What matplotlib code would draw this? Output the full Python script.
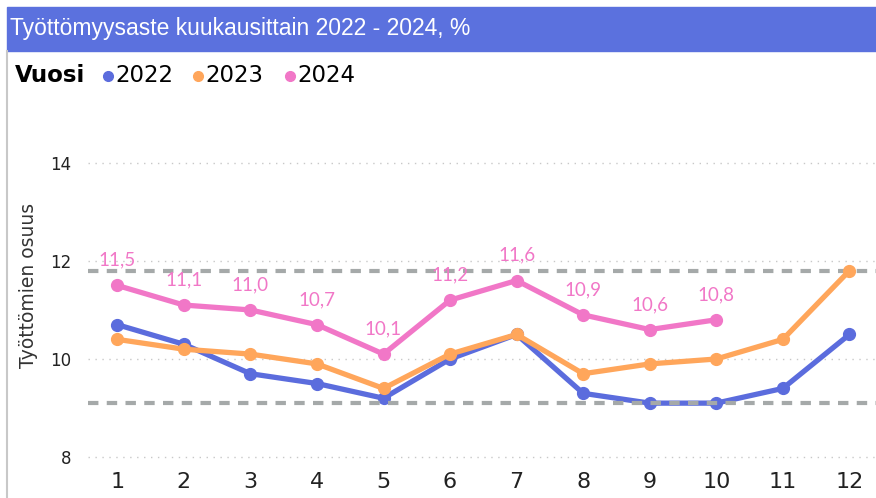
import matplotlib.pyplot as plt
from matplotlib.lines import Line2D
from matplotlib.patches import Rectangle

# data
months = list(range(1, 13))
v2022 = [10.7, 10.3, 9.7, 9.5, 9.2, 10.0, 10.5, 9.3, 9.1, 9.1, 9.4, 10.5]
v2023 = [10.4, 10.2, 10.1, 9.9, 9.4, 10.1, 10.5, 9.7, 9.9, 10.0, 10.4, 11.8]
v2024 = [11.5, 11.1, 11.0, 10.7, 10.1, 11.2, 11.6, 10.9, 10.6, 10.8]
years = ['2022', '2023', '2024']
colors = ['#5B6CDD', '#FFA65B', '#F177C7']
ref_max = 11.8
ref_min = 9.1

W, H = 876, 498
fig = plt.figure(figsize=(W / 100, H / 100), dpi=100)

# title bar
fig.patches.append(Rectangle((7 / W, 1 - 51 / H), 1 - 7 / W, 44 / H,
                             transform=fig.transFigure, color='#5B71DE', zorder=0))
fig.text(10 / W, 1 - 28 / H, 'Työttömyysaste kuukausittain 2022 - 2024, %',
         color='white', fontsize=16.5, va='center', ha='left',
         family='Liberation Sans')
# left border
fig.add_artist(Line2D([7 / W, 7 / W], [0, 1 - 51 / H], transform=fig.transFigure,
                      color='#C8C8C8', lw=1.5))

# legend
fig.text(15 / W, 1 - 76 / H, 'Vuosi', fontsize=16.5, fontweight='bold',
         va='center', ha='left', family='DejaVu Sans')
lx = [108, 198, 290]
for x, y, c in zip(lx, years, colors):
    fig.add_artist(Line2D([x / W], [1 - 76 / H], transform=fig.transFigure,
                          marker='o', color=c, markersize=7, lw=0))
    fig.text((x + 7) / W, 1 - 76 / H, y, fontsize=16.5, va='center', ha='left',
             family='DejaVu Sans')

# axes
ax = fig.add_axes([88 / W, 1 - 462 / H, 1 - 88 / W, (462 - 153) / H])
ax.set_xlim(0.56, 12.4)
ax.set_ylim(7.9, 14.2)
for s in ax.spines.values():
    s.set_visible(False)
ax.set_yticks([8, 10, 12, 14])
ax.set_xticks(months)
ax.tick_params(length=0)
ax.tick_params(axis='y', labelsize=12, pad=12, labelcolor='#222222')
ax.tick_params(axis='x', labelsize=16, pad=7, labelcolor='#222222')
ax.grid(axis='y', linestyle=(0, (1, 4)), color='#C8C8C8', lw=1)
ax.set_ylabel('Työttömien osuus', fontsize=13.5, color='#333333')
ax.yaxis.set_label_coords(-50 / (W - 88), 0.57)

ax.axhline(ref_max, color='#A5A9A9', lw=3, ls=(0, (2.5, 2)), zorder=2.5)
ax.axhline(ref_min, color='#A5A9A9', lw=3, ls=(0, (2.5, 2)), zorder=2.5)

for vals, c, z in zip([v2022, v2023, v2024], colors, [2, 3, 4]):
    ax.plot(months[:len(vals)], vals, color=c, lw=3.8, marker='o', markersize=8.5,
            zorder=z, solid_capstyle='round')

for m, v in zip(months, v2024):
    ax.annotate(f'{v:.1f}'.replace('.', ','), (m, v), xytext=(0, 12),
                textcoords='offset points', ha='center', va='bottom',
                color='#F177C7', fontsize=13.5, family='Lato', zorder=5)

fig.savefig('out.png', dpi=100)
